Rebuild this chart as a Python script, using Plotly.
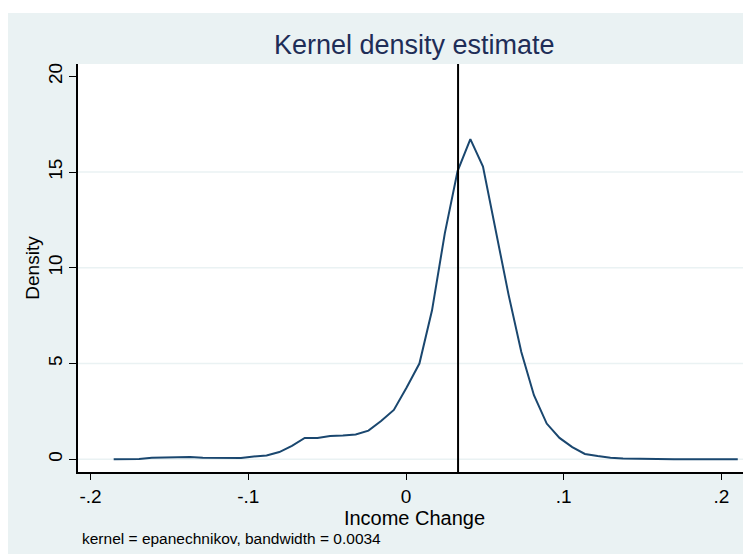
import plotly.graph_objects as go

# ---- data ----
income_change = [
    -0.1853, -0.1772, -0.1692, -0.1611, -0.1530, -0.1449, -0.1369, -0.1288, -0.1207, -0.1126,
    -0.1046, -0.0965, -0.0884, -0.0803, -0.0723, -0.0642, -0.0561, -0.0481, -0.0400, -0.0319,
    -0.0238, -0.0158, -0.0077, 0.0004, 0.0085, 0.0165, 0.0246, 0.0327, 0.0408, 0.0488,
    0.0569, 0.0650, 0.0731, 0.0811, 0.0892, 0.0973, 0.1054, 0.1134, 0.1215, 0.1296,
    0.1376, 0.1457, 0.1538, 0.1619, 0.1699, 0.1780, 0.1861, 0.1942, 0.2022, 0.2103,
]
density = [
    0.00, 0.01, 0.02, 0.08, 0.09, 0.14, 0.12, 0.09, 0.08, 0.08,
    0.07, 0.15, 0.20, 0.38, 0.70, 1.12, 1.12, 1.22, 1.24, 1.30,
    1.50, 2.00, 2.58, 3.75, 5.00, 7.78, 11.80, 15.05, 16.72, 15.28,
    11.90, 8.60, 5.60, 3.35, 1.87, 1.12, 0.64, 0.28, 0.17, 0.08,
    0.05, 0.03, 0.02, 0.01, 0.01, 0.01, 0.01, 0.01, 0.01, 0.01,
]
x_tick_vals = [-0.2, -0.1, 0.0, 0.1, 0.2]
x_tick_text = ["-.2", "-.1", "0", ".1", ".2"]
y_tick_vals = [0, 5, 10, 15, 20]
y_tick_text = ["0", "5", "10", "15", "20"]
y_grid_vals = [0, 5, 10, 15]
ref_line_x = 0.033

# ---- style ----
BG = "#EAF2F3"
LINE = "#1A476F"
TITLE_C = "#1E2D57"
FONT = "Liberation Sans, Arial, sans-serif"

# the page body adds an 8px offset; the figure fills the rest of the window
W, H = 743, 546
L, R, T, B = 70, 0, 56, 82
pw, ph = W - L - R, H - T - B

def px_x(px):
    return (px - L) / pw

def px_y(py):
    return (H - B - py) / ph

fig = go.Figure()
fig.add_trace(go.Scatter(
    x=income_change, y=density, mode="lines",
    line=dict(color=LINE, width=2), showlegend=False, hoverinfo="x+y",
))

shapes = []
for g in y_grid_vals:
    shapes.append(dict(type="line", xref="paper", yref="y", x0=0, x1=1, y0=g, y1=g,
                       line=dict(color=BG, width=1.5), layer="below"))
shapes.append(dict(type="line", xref="x", yref="paper", x0=ref_line_x, x1=ref_line_x,
                   y0=0, y1=1, line=dict(color="black", width=2)))
# white band at the very top of the picture
shapes.append(dict(type="rect", xref="paper", yref="paper", x0=px_x(-2), x1=px_x(W + 2),
                   y0=px_y(5), y1=px_y(-2), fillcolor="white", line=dict(width=0)))

annotations = [
    dict(text="Kernel density estimate", xref="paper", yref="paper", x=0.5, y=px_y(37),
         xanchor="center", yanchor="middle", showarrow=False,
         font=dict(family=FONT, size=27, color=TITLE_C)),
    dict(text="kernel = epanechnikov, bandwidth = 0.0034", xref="paper", yref="paper",
         x=px_x(72), y=px_y(530), xanchor="left", yanchor="middle", showarrow=False,
         font=dict(family=FONT, size=15.5, color="black")),
]

fig.update_layout(
    width=W, height=H,
    margin=dict(l=L, r=R, t=T, b=B, pad=0),
    paper_bgcolor=BG, plot_bgcolor="white",
    font=dict(family=FONT, color="black"),
    shapes=shapes, annotations=annotations,
    showlegend=False,
)
fig.update_xaxes(
    range=[-328 / 1577.5, 345 / 1577.5],
    tickvals=x_tick_vals, ticktext=x_tick_text,
    ticks="outside", ticklen=6, tickwidth=1.2, tickcolor="black",
    showline=True, linecolor="black", linewidth=1.5,
    showgrid=False, zeroline=False,
    tickfont=dict(family=FONT, size=19, color="black"),
    title=dict(text="Income Change", font=dict(family=FONT, size=20, color="black"), standoff=0),
)
fig.update_yaxes(
    range=[-0.66, 20.64],
    tickvals=y_tick_vals, ticktext=y_tick_text, tickangle=-90,
    ticks="outside", ticklen=7, tickwidth=1.2, tickcolor="black",
    showline=True, linecolor="black", linewidth=1.5,
    showgrid=False, zeroline=False,
    tickfont=dict(family=FONT, size=19, color="black"),
    title=dict(text="Density", font=dict(family=FONT, size=19, color="black"), standoff=0),
)

fig.write_html("out.html")
